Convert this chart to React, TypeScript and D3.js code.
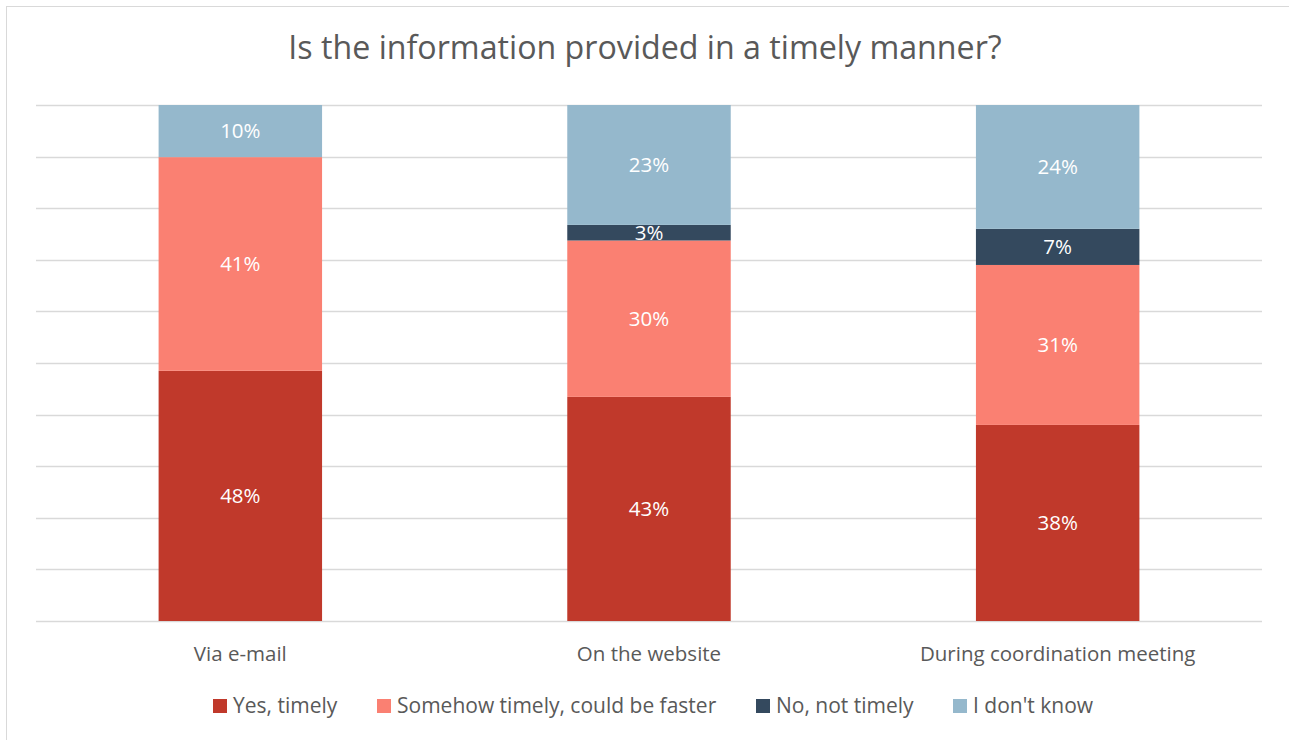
import React from "react";
import * as d3 from "d3";

const categories = ["Via e-mail", "On the website", "During coordination meeting"];
const seriesNames = ["Yes, timely", "Somehow timely, could be faster", "No, not timely", "I don't know"];
const yesTimely = [48, 43, 38];
const somehowTimely = [41, 30, 31];
const notTimely = [0, 3, 7];
const dontKnow = [10, 23, 24];
const colors = ["#c0392b", "#fa8072", "#34495e", "#95b8cc"];
const yTicks = [0, 0.1, 0.2, 0.3, 0.4, 0.5, 0.6, 0.7, 0.8, 0.9, 1];

const W = 1289, H = 740;
const FONT = "'Open Sans', sans-serif";

export default function App() {
  const seriesVals = [yesTimely, somehowTimely, notTimely, dontKnow];
  const rows = categories.map((c, i) => {
    const r: any = { cat: c };
    const total = d3.sum(seriesVals, (s) => s[i]);
    seriesNames.forEach((n, k) => (r[n] = seriesVals[k][i] / total));
    r.raw = seriesVals.map((s) => s[i]);
    return r;
  });
  const stack = d3.stack<any>().keys(seriesNames);
  const stacked = stack(rows);

  const x = d3.scaleBand().domain(categories).range([36, 1262]).paddingInner(0.6).paddingOuter(0.3);
  const y = d3.scaleLinear().domain([0, 1]).range([621, 105]);

  const legendX = [213, 377, 756, 953];

  return (
    <div style={{ position: "absolute", left: 0, top: 0 }}>
      <svg width={W} height={H} style={{ display: "block", fontFamily: FONT }}>
        <rect x={0} y={0} width={W} height={H} fill="#fff" />
        <rect x={6.5} y={6.5} width={W + 10} height={H + 10} fill="none" stroke="#d9d9d9" strokeWidth={1} />
        <text x={645} y={59} textAnchor="middle" fontSize={32.2} fill="#595959">
          Is the information provided in a timely manner?
        </text>
        {yTicks.map((t) => (
          <line key={t} x1={36} x2={1262} y1={Math.round(y(t)) + 0.5} y2={Math.round(y(t)) + 0.5} stroke="#d9d9d9" strokeWidth={1.5} />
        ))}
        {stacked.map((s, k) => (
          <g key={s.key}>
            {s.map((d, i) => {
              const raw = rows[i].raw[k];
              if (raw === 0) return null;
              const y0 = y(d[1]), y1 = y(d[0]);
              return (
                <g key={i}>
                  <rect x={x(categories[i])} y={y0} width={x.bandwidth()} height={y1 - y0} fill={colors[k]} />
                  <text
                    x={(x(categories[i]) as number) + x.bandwidth() / 2}
                    y={(y0 + y1) / 2}
                    dy="0.36em"
                    textAnchor="middle"
                    fontSize={20.5}
                    fill="#ffffff"
                  >
                    {raw}%
                  </text>
                </g>
              );
            })}
          </g>
        ))}
        {categories.map((c) => (
          <text key={c} x={(x(c) as number) + x.bandwidth() / 2} y={661} textAnchor="middle" fontSize={20.5} fill="#595959">
            {c}
          </text>
        ))}
        {seriesNames.map((n, k) => (
          <g key={n}>
            <rect x={legendX[k]} y={699} width={14} height={14} fill={colors[k]} />
            <text x={legendX[k] + 20} y={713} fontSize={21} fill="#595959">
              {n}
            </text>
          </g>
        ))}
      </svg>
    </div>
  );
}
